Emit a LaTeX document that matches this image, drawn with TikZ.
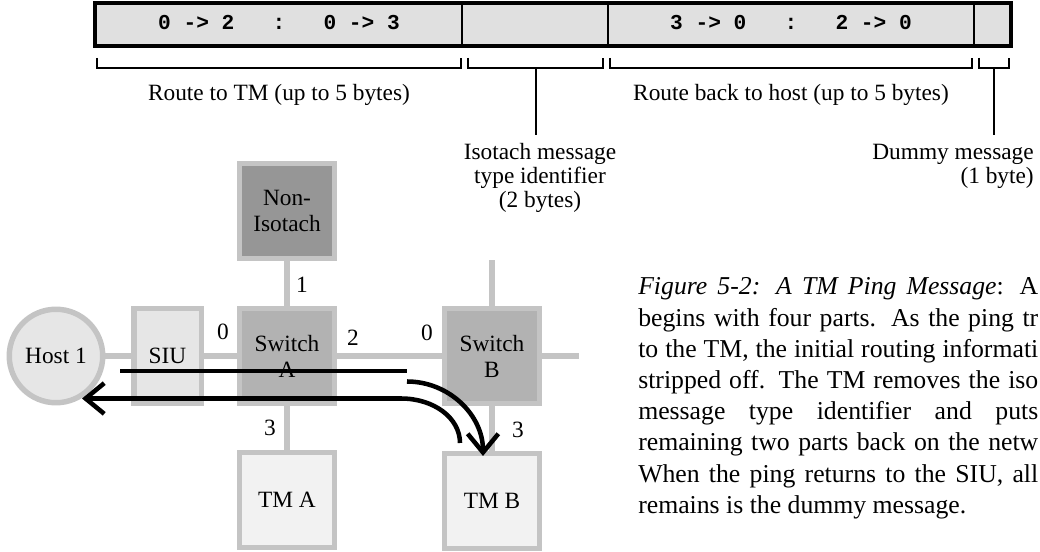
\documentclass[tikz,border=0pt]{standalone}
\usepackage{fontspec}
\setmainfont{Liberation Serif}
\newfontfamily\codefont{Liberation Mono}
\usetikzlibrary{arrows.meta}

\definecolor{boxline}{HTML}{C4C4C4}
\definecolor{switchfill}{HTML}{B2B2B2}
\definecolor{nonfill}{HTML}{969696}
\definecolor{siufill}{HTML}{E6E6E6}
\definecolor{tmfill}{HTML}{F2F2F2}
\definecolor{hostfill}{HTML}{E6E6E6}
\definecolor{fieldfill}{HTML}{E0E0E0}

\newcommand\lblfont{\fontsize{17.5}{18}\selectfont}
\newcommand\boxfont{\fontsize{17.5}{19.5}\selectfont}
\newcommand\capfont{\fontsize{19.3}{23.4}\selectfont}
\newcommand\fieldfont{\codefont\bfseries\fontsize{15.9}{18}\selectfont}

\tikzset{
  field/.style={draw=black, line width=1.6pt, fill=fieldfill, inner sep=0pt,
    minimum height=30.75pt, font=\fieldfont},
  outline/.style={draw=black, line width=2.2pt},
  brace/.style={draw=black, line width=1.2pt},
  pointer/.style={draw=black, line width=1.3pt},
  lbl/.style={inner sep=0pt, font=\lblfont},
  netbox/.style={draw=boxline, line width=4.1pt, inner sep=0pt,
    minimum width=71.6pt, minimum height=71.6pt, align=center, font=\boxfont},
  port/.style={inner sep=0pt, font=\lblfont},
  link/.style={draw=boxline, line width=4.5pt},
  flow/.style={draw=black, line width=3.4pt},
  tip/.style={-{Straight Barb[length=14pt, width=23pt]}},
  capline/.style={anchor=base west, inner sep=0pt, font=\capfont}
}

\begin{document}
\begin{tikzpicture}[x=0.75pt, y=-0.75pt]
\useasboundingbox (0,0) rectangle (1040,552);
\clip (0,0) rectangle (1040,552);

% ---- message layout ----
\node[field, minimum width=274.5pt] (f1) at (279,24.5) {};
\node[field, minimum width=109.5pt] (f2) at (535,24.5) {};
\node[field, minimum width=274.5pt] (f3) at (791,24.5) {};
\node[field, minimum width=27pt]    (f4) at (992,24.5) {};
\draw[outline] (f1.north west) rectangle (f4.south east);
\node[anchor=base, inner sep=0pt, font=\fieldfont] (t1) at (279,30) {0~->~2~~~:~~~0~->~3};
\node[anchor=base, inner sep=0pt, font=\fieldfont] (t3) at (791,30) {3~->~0~~~:~~~2~->~0};

% brackets under the fields
\draw[brace] (97,58) -- (97,68) -- (461,68) -- (461,58);
\draw[brace] (468,58) -- (468,68) -- (603,68) -- (603,58);
\draw[brace] (610,58) -- (610,68) -- (972,68) -- (972,58);
\draw[brace] (979,58) -- (979,68) -- (1009,68) -- (1009,58);

\node[lbl, anchor=base] (lroute) at (279,101) {Route to TM (up to 5 bytes)};
\node[lbl, anchor=base] (lback) at (791,101) {Route back to host (up to 5 bytes)};

\coordinate (b2) at (536,68);
\coordinate (p2) at (536,135);
\coordinate (b4) at (994,68);
\coordinate (p4) at (994,135);
\draw[pointer] (b2) -- (p2);
\draw[pointer] (b4) -- (p4);
% multi-line labels: the base anchor sits on the last line
\node[lbl, align=center, anchor=base] (liso) at (540,208)
  {Isotach message\\type identifier\\(2 bytes)};
\node[lbl, align=right, anchor=base east] (ldummy) at (1034,184)
  {Dummy message\\(1 byte)};

% ---- network ----
\node[netbox, fill=nonfill] (ni) at (287,211) {Non-\\Isotach};
\node[netbox, fill=switchfill] (swa) at (287,356) {Switch\\A};
\node[netbox, fill=switchfill] (swb) at (492,356) {Switch\\B};
\node[netbox, fill=siufill, minimum width=50.6pt] (siu) at (167.5,356) {SIU};
\node[netbox, fill=tmfill] (tma) at (287,500) {TM A};
\node[netbox, fill=tmfill] (tmb) at (492,501) {TM B};
\node[netbox, circle, fill=hostfill, minimum size=70.1pt] (host) at (56,356) {Host 1};

\coordinate (swbup) at (492,260);
\coordinate (swbright) at (579,356);
\draw[link] (host) -- (siu);
\draw[link] (siu) -- (swa);
\draw[link] (ni) -- (swa);
\draw[link] (swa) -- (swb);
\draw[link] (swa) -- (tma);
\draw[link] (swb) -- (tmb);
\draw[link] (swb.north) -- (swbup);
\draw[link] (swb.east) -- (swbright);

\node[port] (pa1) at (302,285) {1};
\node[port] (pa0) at (223,332) {0};
\node[port] (pa2) at (353,338) {2};
\node[port] (pb0) at (427,333) {0};
\node[port] (pa3) at (270,428) {3};
\node[port] (pb3) at (518,430) {3};

% ---- ping path ----
\coordinate (fwdS) at (120,371);
\coordinate (fwdE) at (407,371);
\coordinate (curS) at (407,381.5);
\coordinate (curE) at (483,456);
\coordinate (retS) at (460,443);
\coordinate (retK) at (401,398.5);
\coordinate (retE) at (82,398.5);
\draw[flow] (fwdS) -- (fwdE);
\draw[flow, tip] (curS) .. controls (449,381.5) and (483,415) .. (curE);
\draw[flow, tip] (retS) .. controls (460,418) and (434,398.5) .. (retK) -- (retE);

% ---- caption ----
\node[capline] (c1) at (638,295) {\makebox[300pt][s]{\textit{Figure 5-2: A TM Ping Message}: A}};
\node[capline] (c2) at (638,326.2) {\makebox[300pt][s]{begins with four parts.  As the ping tr}};
\node[capline] (c3) at (638,357.4) {\makebox[300pt][s]{to the TM, the initial routing informati}};
\node[capline] (c4) at (638,388.6) {\makebox[300pt][s]{stripped off.  The TM removes the iso}};
\node[capline] (c5) at (638,419.8) {\makebox[300pt][s]{message type identifier and puts}};
\node[capline] (c6) at (638,451) {\makebox[300pt][s]{remaining two parts back on the netw}};
\node[capline] (c7) at (638,482.2) {\makebox[300pt][s]{When the ping returns to the SIU, all}};
\node[capline] (c8) at (638,513.4) {remains is the dummy message.};
\end{tikzpicture}
\end{document}
